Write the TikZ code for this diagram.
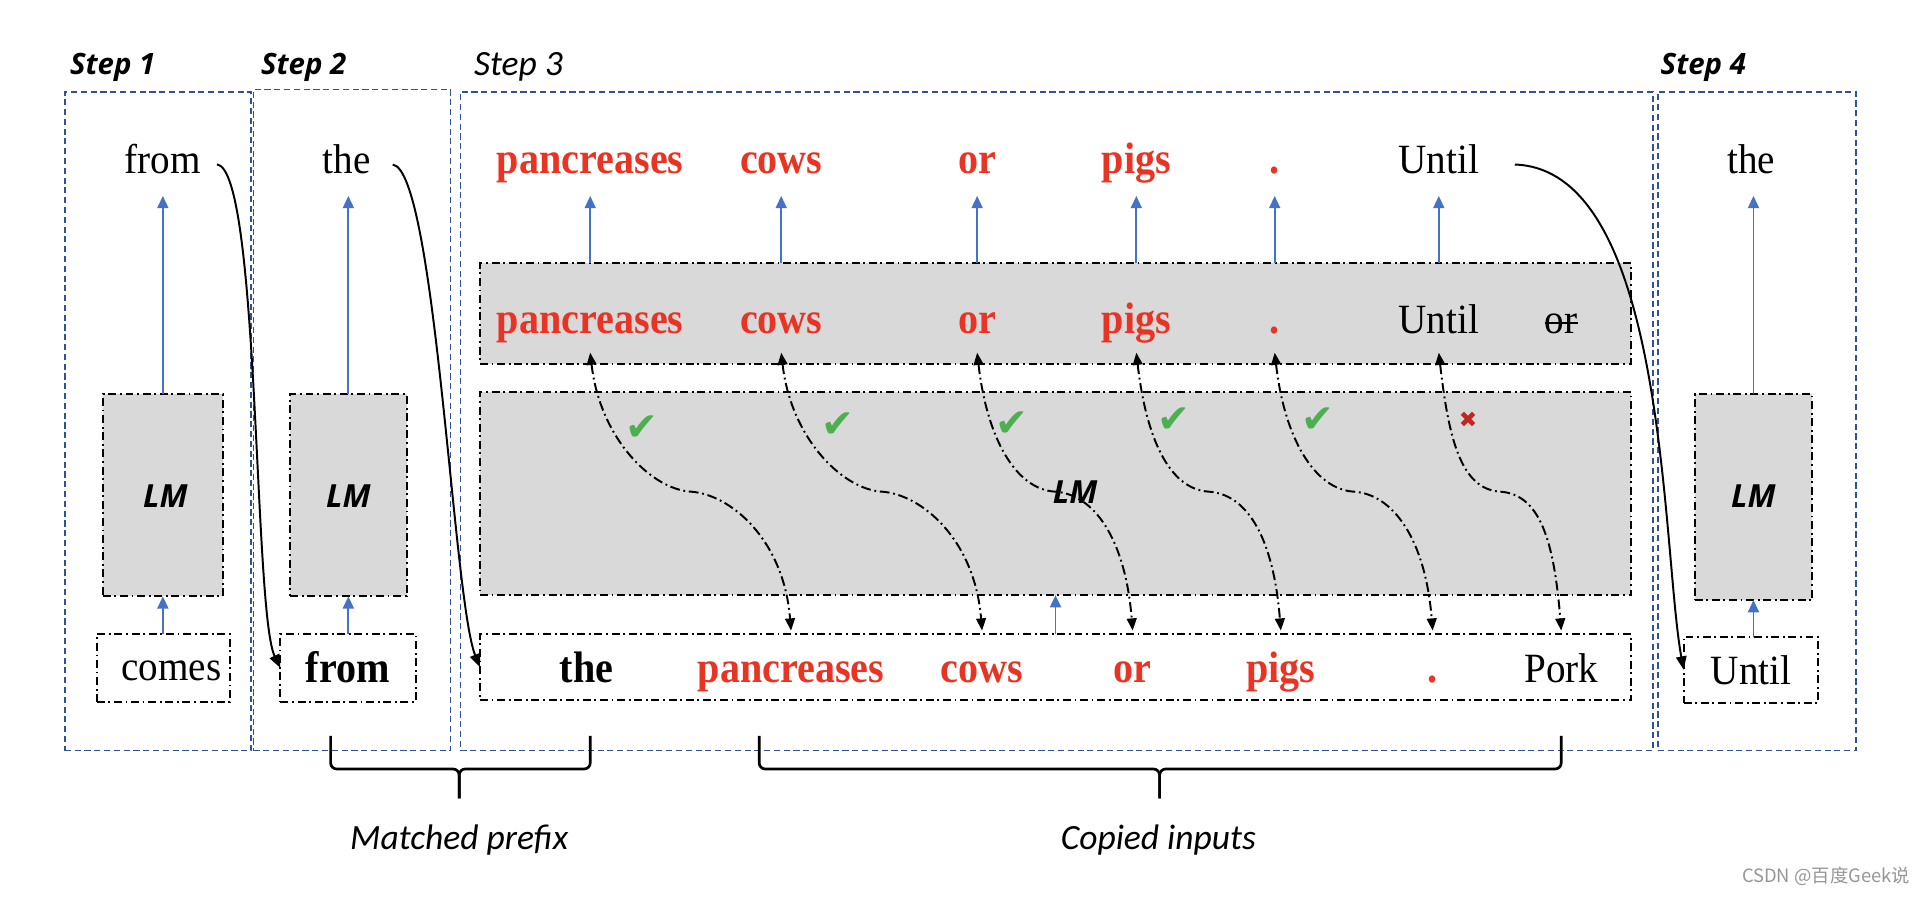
\documentclass[tikz,border=0pt]{standalone}
\usepackage{fontspec}
\setmainfont{Liberation Serif}
\newfontfamily\rmstretch[FakeStretch=0.94]{Liberation Serif}
\newfontfamily\bdstretch[FakeStretch=0.91]{Liberation Serif}
\newfontfamily\stepfont{Open Sans}
\newfontfamily\calfont{Carlito}
\newfontfamily\symfont{DejaVu Sans}
\newfontfamily\cjkfont{Noto Sans CJK SC}
\usetikzlibrary{arrows.meta,calc}
\definecolor{wordred}{RGB}{233,51,35}
\definecolor{arrowblue}{RGB}{68,114,196}
\definecolor{frameblue}{RGB}{47,82,150}
\definecolor{boxgray}{RGB}{217,217,217}
\definecolor{checkgreen}{RGB}{76,175,80}
\definecolor{xred}{RGB}{192,39,30}
\definecolor{wmgray}{RGB}{150,150,150}
\tikzset{
  stepframe/.style={draw=frameblue, line width=1.4pt, dash pattern=on 5pt off 3pt, inner sep=0pt, outer sep=0pt},
  ddbox/.style={draw=black, line width=1.6pt, dash pattern=on 6.5pt off 3pt on 1.5pt off 3pt, inner sep=0pt, outer sep=0pt},
  lmbox/.style={ddbox, fill=boxgray},
  word/.style={font=\rmstretch\fontsize{34}{38}\selectfont, inner sep=0pt, anchor=base},
  bword/.style={word, font=\bdstretch\fontsize{36}{40}\selectfont\bfseries},
  rword/.style={bword, text=wordred},
  lmlabel/.style={font=\stepfont\fontsize{26}{30}\selectfont\bfseries\itshape, inner sep=0pt},
  steplabel/.style={font=\stepfont\fontsize{24}{28}\selectfont\bfseries\itshape, anchor=base west, inner sep=0pt},
  callabel/.style={font=\calfont\fontsize{29}{34}\selectfont\itshape, inner sep=0pt},
  bluearrow/.style={draw=arrowblue, line width=1.5pt, -{Triangle[length=10pt,width=9pt]}},
  copyarrow/.style={draw=black, line width=1.6pt, dash pattern=on 8pt off 3pt on 1.5pt off 3pt, {Triangle[length=10pt,width=8pt]}-{Triangle[length=10pt,width=8pt]}},
  nextarrow/.style={draw=black, line width=1.6pt, -{Triangle[length=11pt,width=8.5pt]}},
  bracepath/.style={draw=black, line width=2.2pt, rounded corners=5pt},
  okmark/.style={font=\symfont\fontsize{32}{34}\selectfont, text=checkgreen, inner sep=0pt},
  badmark/.style={font=\symfont\fontsize{18}{20}\selectfont, text=xred, inner sep=0pt},
}
\begin{document}
\begin{tikzpicture}[x=1pt,y=-1pt]
\useasboundingbox (0,0) rectangle (1568,732);

% step frames
\node[stepframe, minimum width=152pt, minimum height=538pt] (frame1) at (129,344) {};
\node[stepframe, minimum width=161pt, minimum height=540pt] (frame2) at (287.5,343) {};
\node[stepframe, minimum width=974pt, minimum height=538pt] (frame3) at (863,344) {};
\node[stepframe, minimum width=162pt, minimum height=538pt] (frame4) at (1435,344) {};

% step labels
\node[steplabel] (lab1) at (57,61) {Step 1};
\node[steplabel] (lab2) at (213,61) {Step 2};
\node[callabel, anchor=base west] (lab3) at (387,62) {Step 3};
\node[steplabel] (lab4) at (1356,61) {Step 4};

\coordinate (tipy) at (0,160);
\coordinate (ptop) at (0,288);
\coordinate (pbot) at (0,515);

% ---------- Step 1
\node[lmbox, minimum width=98pt, minimum height=165pt] (lm1) at (133,404.5) {};
\node[lmlabel] (lm1t) at (135,405) {LM};
\node[ddbox, minimum width=109pt, minimum height=55pt] (in1) at (133.5,545.5) {};
\node[word] (in1t) at (140,556) {comes};
\node[word] (out1) at (133,142) {from};
\draw[bluearrow] (in1.north -| lm1.south) -- (lm1.south);
\draw[bluearrow] (lm1.north) -- (lm1.north |- tipy);

% ---------- Step 2
\node[lmbox, minimum width=95pt, minimum height=165pt] (lm2) at (284.5,404.5) {};
\node[lmlabel] (lm2t) at (284.5,405) {LM};
\node[ddbox, minimum width=111pt, minimum height=55pt] (in2) at (284.5,545.5) {};
\node[bword] (in2t) at (284,557) {from};
\node[word] (out2) at (283,142) {the};
\draw[bluearrow] (in2.north) -- (lm2.south);
\draw[bluearrow] (lm2.north) -- (lm2.north |- tipy);

% ---------- Step 3
\node[lmbox, minimum width=940pt, minimum height=82pt] (row1) at (862,256) {};
\node[lmbox, minimum width=940pt, minimum height=166pt] (lm3) at (862,403) {};
\node[ddbox, minimum width=940pt, minimum height=54pt] (inrow) at (862,545) {};
\node[lmlabel] (lm3t) at (878,402) {LM};

% top outputs
\node[rword] (o1) at (482,142) {pancreases};
\node[rword] (o2) at (638,142) {cows};
\node[rword] (o3) at (798,142) {or};
\node[rword] (o4) at (928,142) {pigs};
\node[rword] (o5) at (1041,142) {.};
\node[word]  (o6) at (1175,142) {Until};

% predictions
\node[rword] (p1) at (482,272) {pancreases};
\node[rword] (p2) at (638,272) {cows};
\node[rword] (p3) at (798,272) {or};
\node[rword] (p4) at (928,272) {pigs};
\node[rword] (p5) at (1041,272) {.};
\node[word]  (p6) at (1175,272) {Until};
\node[word]  (p7) at (1275,272) {or};
\draw[line width=1.8pt] ([yshift=8pt]p7.base west) -- ([yshift=8pt]p7.base east);

% inputs
\node[bword] (i1) at (479,557) {the};
\node[rword] (i2) at (646,557) {pancreases};
\node[rword] (i3) at (802,557) {cows};
\node[rword] (i4) at (925,557) {or};
\node[rword] (i5) at (1046,557) {pigs};
\node[rword] (i6) at (1170,557) {.};
\node[word]  (i7) at (1275,557) {Pork};

% blue arrows step 3
\foreach \o in {o1,o2,o3,o4,o5,o6}{
  \draw[bluearrow] (\o |- row1.north) -- (\o |- tipy);
}
\draw[bluearrow] (inrow.north) -- (lm3.south);

% copy arrows
\foreach \p/\i in {p1/i2,p2/i3,p3/i4,p4/i5,p5/i6,p6/i7}{
  \draw[copyarrow] (\p |- ptop) .. controls +(8,70) and +(-32,-2) ..
    ($(\p |- ptop)!0.5!(\i |- pbot)$) .. controls +(32,2) and +(-6,-75) .. (\i |- pbot);
}

% checks
\node[okmark] (c1) at (524,350) {✔};
\node[okmark] (c2) at (684,347) {✔};
\node[okmark] (c3) at (826,346) {✔};
\node[okmark] (c4) at (959,343) {✔};
\node[okmark] (c5) at (1076,343) {✔};
\node[badmark] (x6) at (1199,343) {✖};

% ---------- Step 4
\node[lmbox, minimum width=96pt, minimum height=168pt] (lm4) at (1432,406) {};
\node[lmlabel] (lm4t) at (1432,405) {LM};
\node[ddbox, minimum width=110pt, minimum height=54pt] (in4) at (1430,547) {};
\node[word] (in4t) at (1430,559) {Until};
\node[word] (out4) at (1430,142) {the};
\draw[bluearrow] (in4.north -| lm4.south) -- (lm4.south);
\draw[bluearrow] (lm4.north) -- (lm4.north |- tipy);

% ---------- carry-over arrows
\draw[nextarrow] ([xshift=13pt,yshift=-4pt]out1.east) .. controls +(35,5) and +(-22,-45) .. (in2.west);
\draw[nextarrow] ([xshift=18pt,yshift=-4pt]out2.east) .. controls +(35,5) and +(-22,-55) .. (inrow.west);
\draw[nextarrow] ([xshift=29pt,yshift=-4pt]o6.east) .. controls +(125,4) and +(-18,-98) .. (in4.west);

% ---------- braces
\draw[bracepath] (270,601) |- (375,628) -- (375,652);
\draw[bracepath] (482,601) |- (375,628) -- (375,652);
\draw[bracepath] (620,601) |- (947,628) -- (947,652);
\draw[bracepath] (1275,601) |- (947,628) -- (947,652);
\node[callabel] (mp) at (375,686) {Matched prefix};
\node[callabel] (ci) at (946,686) {Copied inputs};

% watermark
\node[font=\cjkfont\fontsize{15}{17}\selectfont, text=wmgray, anchor=east, inner sep=0pt] (wm) at (1560,716) {CSDN @百度Geek说};
\end{tikzpicture}
\end{document}
